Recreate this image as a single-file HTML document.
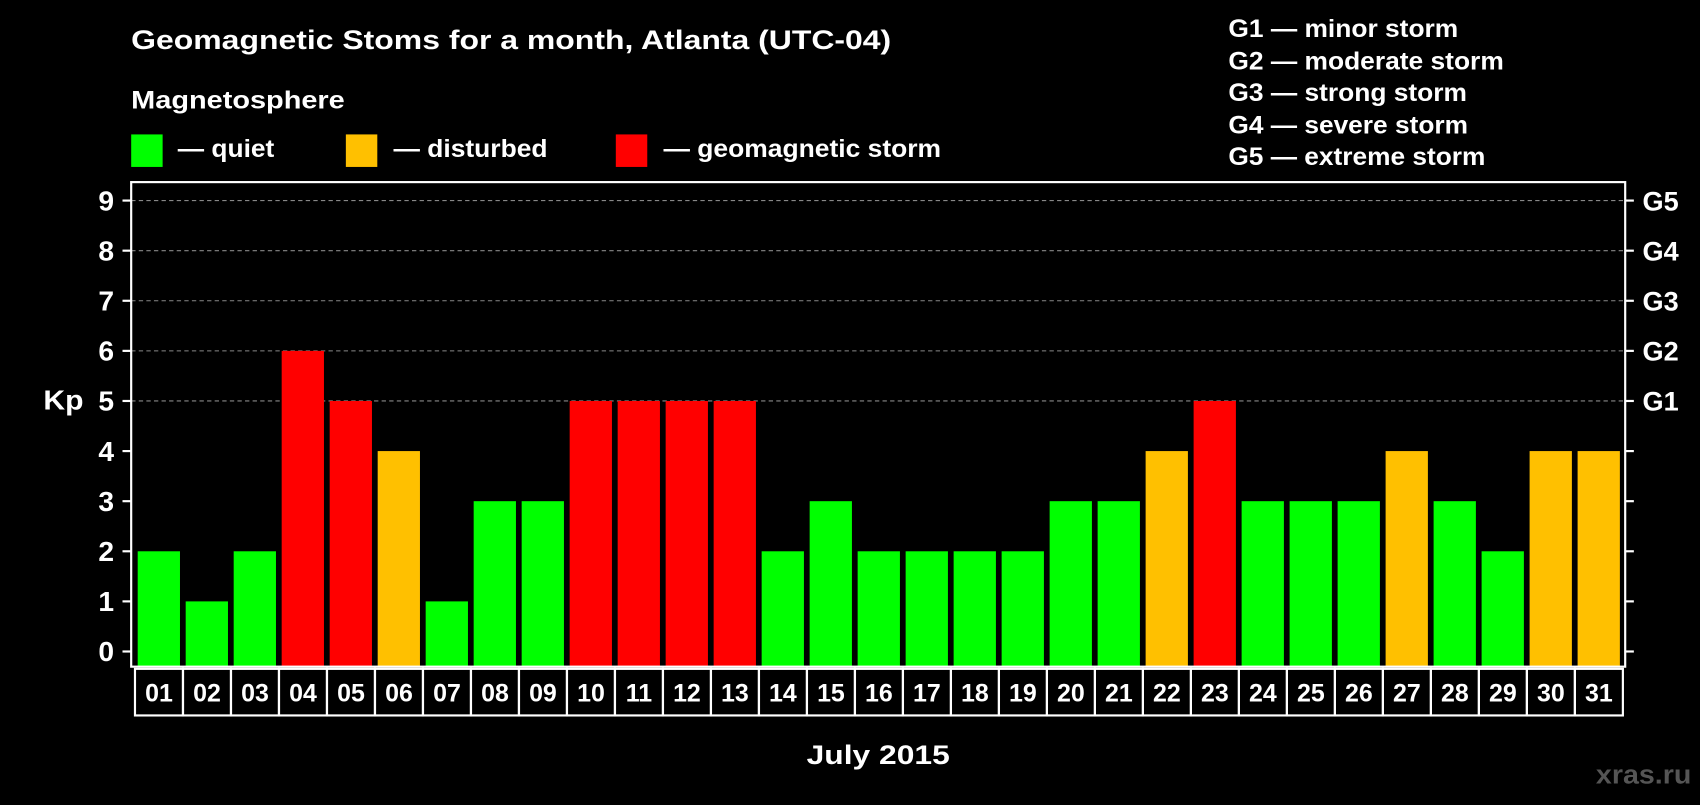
<!DOCTYPE html>
<html><head><meta charset="utf-8"><style>
html,body{margin:0;padding:0;background:#000;}
body{width:1700px;height:800px;overflow:hidden;font-family:"Liberation Sans",Arial,sans-serif;font-weight:bold;color:#fff;}
</style></head><body>
<svg id="chart" width="1700" height="800" viewBox="0 0 1568 738" preserveAspectRatio="none" xmlns="http://www.w3.org/2000/svg" font-family="Liberation Sans, Arial, sans-serif" font-weight="bold">
<rect width="1568" height="738" fill="#000"/>
<text x="121" y="45" font-size="25" textLength="701" lengthAdjust="spacingAndGlyphs" fill="#fff">Geomagnetic Stoms for a month, Atlanta (UTC-04)</text>
<text x="121" y="100" font-size="23" textLength="197" lengthAdjust="spacingAndGlyphs" fill="#fff">Magnetosphere</text>
<rect x="121" y="124" width="29" height="30" fill="#00ff00"/>
<text x="164" y="145" font-size="23" textLength="89" lengthAdjust="spacingAndGlyphs" fill="#fff">— quiet</text>
<rect x="319" y="124" width="29" height="30" fill="#ffc000"/>
<text x="363" y="145" font-size="23" textLength="142" lengthAdjust="spacingAndGlyphs" fill="#fff">— disturbed</text>
<rect x="568" y="124" width="29" height="30" fill="#ff0000"/>
<text x="612" y="145" font-size="23" textLength="256" lengthAdjust="spacingAndGlyphs" fill="#fff">— geomagnetic storm</text>
<g font-size="23" fill="#fff">
<text x="1133" y="34" textLength="212" lengthAdjust="spacingAndGlyphs">G1 — minor storm</text>
<text x="1133" y="64" textLength="254" lengthAdjust="spacingAndGlyphs">G2 — moderate storm</text>
<text x="1133" y="93" textLength="220" lengthAdjust="spacingAndGlyphs">G3 — strong storm</text>
<text x="1133" y="123" textLength="221" lengthAdjust="spacingAndGlyphs">G4 — severe storm</text>
<text x="1133" y="152" textLength="237" lengthAdjust="spacingAndGlyphs">G5 — extreme storm</text>
</g>
<text x="40" y="378" font-size="26" textLength="37" lengthAdjust="spacingAndGlyphs" fill="#fff">Kp</text>
<text x="744" y="705" font-size="25" textLength="132" lengthAdjust="spacingAndGlyphs" fill="#fff">July 2015</text>
<text x="1472" y="723" font-size="24" textLength="88" lengthAdjust="spacingAndGlyphs" fill="#555">xras.ru</text>
<g id="grid"></g><g id="bars"></g><g id="axes"></g><g id="xlabels"></g>
</svg>
<script>
const days=["01","02","03","04","05","06","07","08","09","10","11","12","13","14","15","16","17","18","19","20","21","22","23","24","25","26","27","28","29","30","31"];
const kp=[2,1,2,6,5,4,1,3,3,5,5,5,5,2,3,2,2,2,2,3,3,4,5,3,3,3,4,3,2,4,4];
const yTicks=[0,1,2,3,4,5,6,7,8,9];
const gLabels=["G1","G2","G3","G4","G5"];
const gLevels=[5,6,7,8,9];
const NS="http://www.w3.org/2000/svg";
const L=121,R=1499,T=168,B=615,P=44.27;
function y(v){return 601-v*46.22;}
function x(i){return 127+i*P;}
function color(v){return v>=5?"#ff0000":v==4?"#ffc000":"#00ff00";}
function mk(tag,attrs,parent,text){const e=document.createElementNS(NS,tag);for(const k in attrs)e.setAttribute(k,attrs[k]);if(text!==undefined)e.textContent=text;document.getElementById(parent).appendChild(e);return e;}
gLevels.forEach((g,i)=>{
 const l=mk("line",{x1:L,x2:R,y1:y(g),y2:y(g),stroke:"#888","stroke-width":1,"stroke-dasharray":"4,3"},"grid");
 
 
 const t=mk("text",{x:1515,y:y(g)+9,"font-size":25,fill:"#fff"},"axes",gLabels[i]);
 
 
});
kp.forEach((v,i)=>{
 const r=mk("rect",{x:x(i),y:y(v),width:39,height:B-y(v),fill:color(v)},"bars");
 
 
 const c=mk("rect",{x:124.5+i*P,y:617,width:P,height:43,fill:"none",stroke:"#fff","stroke-width":2},"xlabels");
 
 
 const t=mk("text",{x:124.5+i*P+P/2,y:647,"font-size":23,fill:"#fff","text-anchor":"middle"},"xlabels",days[i]);
 
 
});
const f=mk("rect",{x:L,y:T,width:R-L,height:B-T,fill:"none",stroke:"#fff","stroke-width":2},"axes");


yTicks.forEach(v=>{
 const a=mk("line",{x1:113,x2:L,y1:y(v),y2:y(v),stroke:"#fff","stroke-width":2},"axes");
 
 
 const b=mk("line",{x1:R,x2:1507,y1:y(v),y2:y(v),stroke:"#fff","stroke-width":2},"axes");
 
 
 const t=mk("text",{x:98,y:y(v)+9,"font-size":26,fill:"#fff","text-anchor":"middle"},"axes",String(v));
 
 
});
</script>
</body></html>
